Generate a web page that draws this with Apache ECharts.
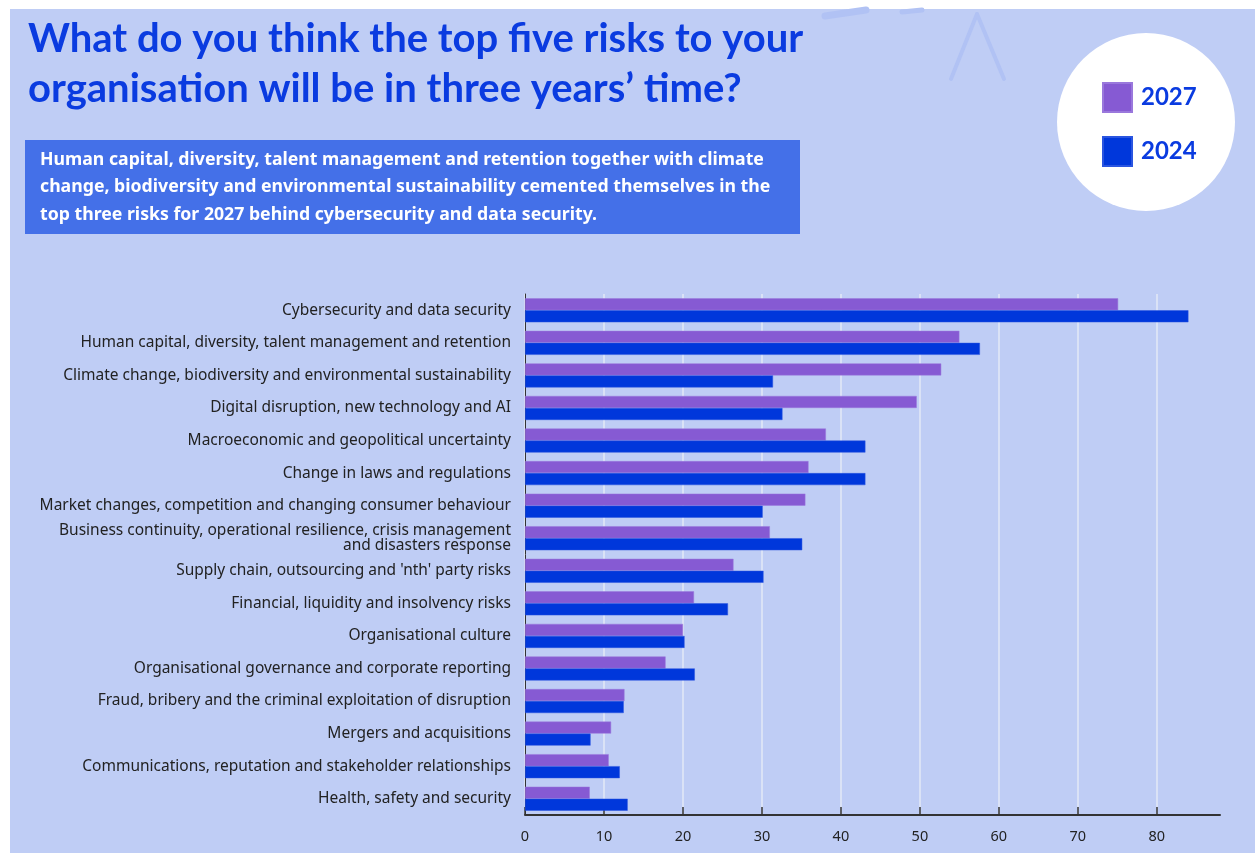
<!DOCTYPE html>
<html>
<head>
<meta charset="utf-8">
<script src="https://cdn.jsdelivr.net/npm/echarts@6/dist/echarts.min.js"></script>
<style>
  html, body { margin: 0; padding: 0; background: #fff; }
  #chart { width: 1255px; height: 853px; }
</style>
</head>
<body>
<div id="chart"></div>
<script>
  // risk categories, top to bottom
  var risks = [
    'Cybersecurity and data security',
    'Human capital, diversity, talent management and retention',
    'Climate change, biodiversity and environmental sustainability',
    'Digital disruption, new technology and AI',
    'Macroeconomic and geopolitical uncertainty',
    'Change in laws and regulations',
    'Market changes, competition and changing consumer behaviour',
    'Business continuity, operational resilience, crisis management\nand disasters response',
    "Supply chain, outsourcing and 'nth' party risks",
    'Financial, liquidity and insolvency risks',
    'Organisational culture',
    'Organisational governance and corporate reporting',
    'Fraud, bribery and the criminal exploitation of disruption',
    'Mergers and acquisitions',
    'Communications, reputation and stakeholder relationships',
    'Health, safety and security'
  ]
  var y2027 = [75.1, 55.0, 52.7, 49.6, 38.1, 35.9, 35.5, 31.0, 26.4, 21.4, 20.0, 17.8, 12.6, 10.9, 10.6, 8.2]
  var y2024 = [84.0, 57.6, 31.4, 32.6, 43.1, 43.1, 30.1, 35.1, 30.2, 25.7, 20.2, 21.5, 12.5, 8.3, 12.0, 13.0]
  var xTicks = [0, 10, 20, 30, 40, 50, 60, 70, 80]

  var blue = '#0a3be0'
  var chart = echarts.init(document.getElementById('chart'))

  chart.setOption({
    backgroundColor: '#fff',
    textStyle: { fontFamily: 'Noto Sans' },
    color: ['#865ad3', '#0037db'],
    title: {
      text: 'What do you think the top five risks to your\norganisation will be in three years\u2019 time?',
      left: 23,
      top: 9,
      textStyle: { fontFamily: 'Lato', fontSize: 40, fontWeight: 'bold', color: blue, lineHeight: 50 }
    },
    graphic: [
      { type: 'rect', z: -10, shape: { x: 10, y: 9, width: 1245, height: 844 }, style: { fill: '#bfcdf5' } },
      // faint decoration at the top
      { type: 'line', z: -5, shape: { x1: 825, y1: 16, x2: 866, y2: 10 }, style: { stroke: '#b1c2f4', lineWidth: 7, lineCap: 'round' } },
      { type: 'line', z: -5, shape: { x1: 902, y1: 12, x2: 922, y2: 10 }, style: { stroke: '#b1c2f4', lineWidth: 5, lineCap: 'round' } },
      { type: 'line', z: -5, shape: { x1: 977, y1: 14, x2: 951, y2: 79 }, style: { stroke: '#b1c2f4', lineWidth: 4, lineCap: 'round' } },
      { type: 'line', z: -5, shape: { x1: 977, y1: 14, x2: 1004, y2: 79 }, style: { stroke: '#b1c2f4', lineWidth: 4, lineCap: 'round' } },
      // summary box
      { type: 'rect', shape: { x: 25, y: 140, width: 775, height: 94 }, style: { fill: '#4470e8' } },
      {
        type: 'text', left: 40, top: 146,
        style: {
          text: 'Human capital, diversity, talent management and retention together with climate\nchange, biodiversity and environmental sustainability cemented themselves in the\ntop three risks for 2027 behind cybersecurity and data security.',
          fill: '#fff', font: 'bold 17.7px "Noto Sans"', lineHeight: 27.5
        }
      },
      // legend disc
      { type: 'circle', shape: { cx: 1146, cy: 122, r: 89 }, style: { fill: '#fff' } }
    ],
    legend: {
      data: ['2027', '2024'],
      orient: 'vertical',
      left: 1097,
      top: 77,
      icon: 'rect',
      itemWidth: 29,
      itemHeight: 29,
      itemGap: 23,
      selectedMode: false,
      textStyle: { fontFamily: 'Lato', fontSize: 24, fontWeight: 'bold', color: blue, padding: [0, 0, 0, 4] }
    },
    grid: { left: 525, right: 35, top: 294, bottom: 38, containLabel: false },
    xAxis: {
      type: 'value',
      min: 0,
      max: 88,
      interval: 10,
      axisLine: { show: true, lineStyle: { color: '#333', width: 2 } },
      axisTick: { show: true, inside: true, length: 8, customValues: xTicks, lineStyle: { color: '#333', width: 1.5 } },
      axisLabel: { customValues: xTicks, color: '#222', fontSize: 14.5, margin: 14 },
      splitLine: { show: true, lineStyle: { color: '#e3e8f6', width: 1.5 } }
    },
    yAxis: {
      type: 'category',
      data: risks,
      inverse: true,
      axisLine: { show: true, lineStyle: { color: '#333', width: 1 } },
      axisTick: { show: false },
      axisLabel: { color: '#222', fontSize: 15.5, lineHeight: 15, margin: 14 }
    },
    series: [
      { name: '2027', type: 'bar', data: y2027, barWidth: 12, barGap: '0%', itemStyle: { borderColor: '#9a78dc', borderWidth: 0.5 } },
      { name: '2024', type: 'bar', data: y2024, barWidth: 12, barGap: '0%', itemStyle: { borderColor: '#2a55e0', borderWidth: 0.5 } }
    ]
  })
</script>
</body>
</html>
